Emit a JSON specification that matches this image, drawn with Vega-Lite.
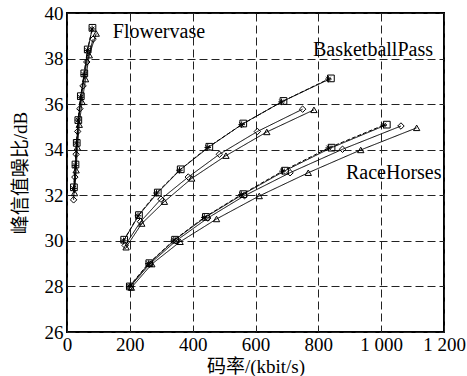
{
  "$schema": "https://vega.github.io/schema/vega-lite/v6.json",
  "width": 377,
  "height": 319,
  "autosize": {"type": "none"},
  "padding": {"left": 67, "top": 13, "right": 23, "bottom": 44},
  "background": "white",
  "config": {
    "view": {"stroke": "black", "strokeWidth": 2},
    "font": "Liberation Serif, Times New Roman, serif",
    "axis": {
      "grid": true,
      "gridColor": "#222",
      "gridDash": [8, 4],
      "gridWidth": 1,
      "ticks": false,
      "tickSize": 0,
      "domain": false,
      "labelFont": "Liberation Serif, Times New Roman, serif",
      "labelFontSize": 19,
      "labelColor": "black",
      "titleFont": "Liberation Serif, Noto Sans CJK SC, serif",
      "titleFontSize": 19,
      "titleFontWeight": "normal",
      "titleColor": "black"
    }
  },
  "datasets": {
    "curves": [
      {"seq": "Flowervase", "method": "sq", "rate": 22, "psnr": 32.35},
      {"seq": "Flowervase", "method": "sq", "rate": 27, "psnr": 33.35},
      {"seq": "Flowervase", "method": "sq", "rate": 31, "psnr": 34.3},
      {"seq": "Flowervase", "method": "sq", "rate": 36, "psnr": 35.3},
      {"seq": "Flowervase", "method": "sq", "rate": 44, "psnr": 36.35},
      {"seq": "Flowervase", "method": "sq", "rate": 55, "psnr": 37.35},
      {"seq": "Flowervase", "method": "sq", "rate": 66, "psnr": 38.4},
      {"seq": "Flowervase", "method": "sq", "rate": 81, "psnr": 39.35},
      {"seq": "Flowervase", "method": "ast", "rate": 21, "psnr": 32.3},
      {"seq": "Flowervase", "method": "ast", "rate": 26, "psnr": 33.3},
      {"seq": "Flowervase", "method": "ast", "rate": 30, "psnr": 34.3},
      {"seq": "Flowervase", "method": "ast", "rate": 35, "psnr": 35.3},
      {"seq": "Flowervase", "method": "ast", "rate": 43, "psnr": 36.3},
      {"seq": "Flowervase", "method": "ast", "rate": 54, "psnr": 37.3},
      {"seq": "Flowervase", "method": "ast", "rate": 65, "psnr": 38.35},
      {"seq": "Flowervase", "method": "ast", "rate": 80, "psnr": 39.3},
      {"seq": "Flowervase", "method": "dia", "rate": 21, "psnr": 31.8},
      {"seq": "Flowervase", "method": "dia", "rate": 25, "psnr": 32.8},
      {"seq": "Flowervase", "method": "dia", "rate": 29, "psnr": 33.8},
      {"seq": "Flowervase", "method": "dia", "rate": 34, "psnr": 34.8},
      {"seq": "Flowervase", "method": "dia", "rate": 41, "psnr": 35.8},
      {"seq": "Flowervase", "method": "dia", "rate": 51, "psnr": 36.8},
      {"seq": "Flowervase", "method": "dia", "rate": 63, "psnr": 37.85},
      {"seq": "Flowervase", "method": "dia", "rate": 83, "psnr": 38.85},
      {"seq": "Flowervase", "method": "tri", "rate": 24, "psnr": 32.1},
      {"seq": "Flowervase", "method": "tri", "rate": 29, "psnr": 33.1},
      {"seq": "Flowervase", "method": "tri", "rate": 33, "psnr": 34.1},
      {"seq": "Flowervase", "method": "tri", "rate": 39, "psnr": 35.1},
      {"seq": "Flowervase", "method": "tri", "rate": 48, "psnr": 36.1},
      {"seq": "Flowervase", "method": "tri", "rate": 59, "psnr": 37.1},
      {"seq": "Flowervase", "method": "tri", "rate": 71, "psnr": 38.15},
      {"seq": "Flowervase", "method": "tri", "rate": 93, "psnr": 39.1},

      {"seq": "BasketballPass", "method": "sq", "rate": 182, "psnr": 30.05},
      {"seq": "BasketballPass", "method": "sq", "rate": 229, "psnr": 31.13},
      {"seq": "BasketballPass", "method": "sq", "rate": 289, "psnr": 32.12},
      {"seq": "BasketballPass", "method": "sq", "rate": 362, "psnr": 33.14},
      {"seq": "BasketballPass", "method": "sq", "rate": 453, "psnr": 34.13},
      {"seq": "BasketballPass", "method": "sq", "rate": 561, "psnr": 35.15},
      {"seq": "BasketballPass", "method": "sq", "rate": 689, "psnr": 36.14},
      {"seq": "BasketballPass", "method": "sq", "rate": 840, "psnr": 37.13},
      {"seq": "BasketballPass", "method": "ast", "rate": 180, "psnr": 30.0},
      {"seq": "BasketballPass", "method": "ast", "rate": 226, "psnr": 31.1},
      {"seq": "BasketballPass", "method": "ast", "rate": 285, "psnr": 32.1},
      {"seq": "BasketballPass", "method": "ast", "rate": 358, "psnr": 33.1},
      {"seq": "BasketballPass", "method": "ast", "rate": 448, "psnr": 34.1},
      {"seq": "BasketballPass", "method": "ast", "rate": 556, "psnr": 35.1},
      {"seq": "BasketballPass", "method": "ast", "rate": 683, "psnr": 36.1},
      {"seq": "BasketballPass", "method": "ast", "rate": 832, "psnr": 37.1},
      {"seq": "BasketballPass", "method": "dia", "rate": 185, "psnr": 29.8},
      {"seq": "BasketballPass", "method": "dia", "rate": 234, "psnr": 30.84},
      {"seq": "BasketballPass", "method": "dia", "rate": 299, "psnr": 31.83},
      {"seq": "BasketballPass", "method": "dia", "rate": 386, "psnr": 32.8},
      {"seq": "BasketballPass", "method": "dia", "rate": 485, "psnr": 33.8},
      {"seq": "BasketballPass", "method": "dia", "rate": 606, "psnr": 34.8},
      {"seq": "BasketballPass", "method": "dia", "rate": 750, "psnr": 35.78},
      {"seq": "BasketballPass", "method": "tri", "rate": 188, "psnr": 29.72},
      {"seq": "BasketballPass", "method": "tri", "rate": 238, "psnr": 30.76},
      {"seq": "BasketballPass", "method": "tri", "rate": 310, "psnr": 31.72},
      {"seq": "BasketballPass", "method": "tri", "rate": 397, "psnr": 32.74},
      {"seq": "BasketballPass", "method": "tri", "rate": 506, "psnr": 33.74},
      {"seq": "BasketballPass", "method": "tri", "rate": 636, "psnr": 34.78},
      {"seq": "BasketballPass", "method": "tri", "rate": 786, "psnr": 35.75},

      {"seq": "RaceHorses", "method": "sq", "rate": 200, "psnr": 28.0},
      {"seq": "RaceHorses", "method": "sq", "rate": 262, "psnr": 29.02},
      {"seq": "RaceHorses", "method": "sq", "rate": 344, "psnr": 30.05},
      {"seq": "RaceHorses", "method": "sq", "rate": 442, "psnr": 31.05},
      {"seq": "RaceHorses", "method": "sq", "rate": 561, "psnr": 32.05},
      {"seq": "RaceHorses", "method": "sq", "rate": 694, "psnr": 33.08},
      {"seq": "RaceHorses", "method": "sq", "rate": 842, "psnr": 34.09},
      {"seq": "RaceHorses", "method": "sq", "rate": 1018, "psnr": 35.1},
      {"seq": "RaceHorses", "method": "ast", "rate": 198, "psnr": 28.0},
      {"seq": "RaceHorses", "method": "ast", "rate": 259, "psnr": 29.0},
      {"seq": "RaceHorses", "method": "ast", "rate": 340, "psnr": 30.03},
      {"seq": "RaceHorses", "method": "ast", "rate": 437, "psnr": 31.03},
      {"seq": "RaceHorses", "method": "ast", "rate": 555, "psnr": 32.03},
      {"seq": "RaceHorses", "method": "ast", "rate": 686, "psnr": 33.06},
      {"seq": "RaceHorses", "method": "ast", "rate": 833, "psnr": 34.08},
      {"seq": "RaceHorses", "method": "ast", "rate": 1008, "psnr": 35.08},
      {"seq": "RaceHorses", "method": "dia", "rate": 200, "psnr": 27.97},
      {"seq": "RaceHorses", "method": "dia", "rate": 263, "psnr": 28.98},
      {"seq": "RaceHorses", "method": "dia", "rate": 347, "psnr": 30.0},
      {"seq": "RaceHorses", "method": "dia", "rate": 448, "psnr": 31.0},
      {"seq": "RaceHorses", "method": "dia", "rate": 565, "psnr": 31.98},
      {"seq": "RaceHorses", "method": "dia", "rate": 710, "psnr": 32.99},
      {"seq": "RaceHorses", "method": "dia", "rate": 877, "psnr": 34.02},
      {"seq": "RaceHorses", "method": "dia", "rate": 1063, "psnr": 35.04},
      {"seq": "RaceHorses", "method": "tri", "rate": 205, "psnr": 27.95},
      {"seq": "RaceHorses", "method": "tri", "rate": 270, "psnr": 28.98},
      {"seq": "RaceHorses", "method": "tri", "rate": 360, "psnr": 29.96},
      {"seq": "RaceHorses", "method": "tri", "rate": 476, "psnr": 30.96},
      {"seq": "RaceHorses", "method": "tri", "rate": 612, "psnr": 31.97},
      {"seq": "RaceHorses", "method": "tri", "rate": 768, "psnr": 32.99},
      {"seq": "RaceHorses", "method": "tri", "rate": 935, "psnr": 33.99},
      {"seq": "RaceHorses", "method": "tri", "rate": 1113, "psnr": 34.96}
    ],
    "labels": [
      {"text": "Flowervase", "rate": 146, "psnr": 39.16},
      {"text": "BasketballPass", "rate": 783, "psnr": 38.37},
      {"text": "RaceHorses", "rate": 888, "psnr": 32.99}
    ]
  },
  "layer": [
    {
      "data": {"name": "curves"},
      "mark": {"type": "line", "color": "black", "strokeWidth": 1},
      "encoding": {
        "x": {
          "field": "rate", "type": "quantitative",
          "scale": {"domain": [0, 1200], "nice": false},
          "axis": {
            "values": [0, 200, 400, 600, 800, 1000, 1200],
            "labelExpr": "replace(format(datum.value, ','), ',', ' ')",
            "labelFlush": false,
            "labelPadding": 3,
            "title": "码率/(kbit/s)",
            "titlePadding": 3
          }
        },
        "y": {
          "field": "psnr", "type": "quantitative",
          "scale": {"domain": [26, 40], "nice": false, "zero": false},
          "axis": {
            "values": [26, 28, 30, 32, 34, 36, 38, 40],
            "labelPadding": 4,
            "title": "峰信值噪比/dB",
            "titlePadding": 14
          }
        },
        "detail": {"field": "seq", "type": "nominal"},
        "strokeDash": {
          "field": "method", "type": "nominal",
          "scale": {"domain": ["sq", "ast", "dia", "tri"], "range": [[1, 0], [4, 2], [1, 0], [1, 0]]},
          "legend": null
        },
        "order": {"field": "rate", "type": "quantitative"}
      }
    },
    {
      "data": {"name": "curves"},
      "mark": {"type": "point", "filled": false, "color": "black", "strokeWidth": 1, "opacity": 1},
      "encoding": {
        "x": {"field": "rate", "type": "quantitative"},
        "y": {"field": "psnr", "type": "quantitative"},
        "shape": {
          "field": "method", "type": "nominal",
          "scale": {"domain": ["sq", "ast", "dia", "tri"], "range": ["square", "M-1,0L1,0M0,-1L0,1M-0.7,-0.7L0.7,0.7M-0.7,0.7L0.7,-0.7", "diamond", "triangle-up"]},
          "legend": null
        },
        "size": {
          "field": "method", "type": "nominal",
          "scale": {"domain": ["sq", "ast", "dia", "tri"], "range": [45, 40, 70, 100]},
          "legend": null
        }
      }
    },
    {
      "data": {"name": "labels"},
      "mark": {"type": "text", "align": "left", "baseline": "middle", "font": "Liberation Serif, Times New Roman, serif", "fontSize": 20, "color": "black"},
      "encoding": {
        "x": {"field": "rate", "type": "quantitative"},
        "y": {"field": "psnr", "type": "quantitative"},
        "text": {"field": "text", "type": "nominal"}
      }
    }
  ]
}
